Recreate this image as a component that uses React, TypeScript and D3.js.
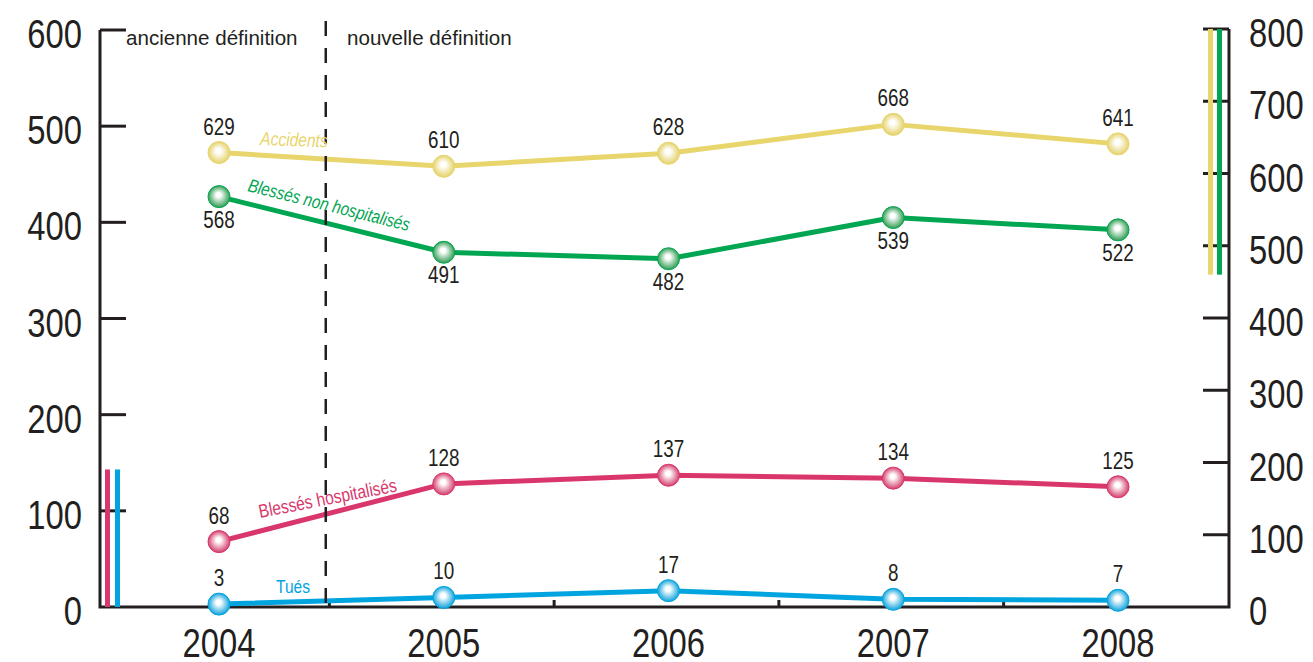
import React, { useEffect, useRef } from 'react';
import * as d3 from 'd3';

const years = ['2004', '2005', '2006', '2007', '2008'];
const accidents = [629, 610, 628, 668, 641];
const blessesNonHosp = [568, 491, 482, 539, 522];
const blessesHosp = [68, 128, 137, 134, 125];
const tues = [3, 10, 17, 8, 7];
const leftTicks = [0, 100, 200, 300, 400, 500, 600];
const rightTicks = [0, 100, 200, 300, 400, 500, 600, 700, 800];

const W = 1313;
const H = 662;
const FONT = "'Liberation Sans', Arial, sans-serif";
const INK = '#231f20';
const SX = 0.82; // horizontal squeeze to mimic a condensed face

interface Series {
  key: string;
  name: string;
  values: number[];
  axis: 'left' | 'right';
  color: string;
  edge: string;
  labelDy: number;
}

const series: Series[] = [
  { key: 'acc', name: 'Accidents', values: accidents, axis: 'right', color: '#e8d56c', edge: '#e3cf62', labelDy: -18 },
  { key: 'bnh', name: 'Blessés non hospitalisés', values: blessesNonHosp, axis: 'right', color: '#00a651', edge: '#26984a', labelDy: 31 },
  { key: 'bh', name: 'Blessés hospitalisés', values: blessesHosp, axis: 'left', color: '#d9376c', edge: '#d23766', labelDy: -18 },
  { key: 'tues', name: 'Tués', values: tues, axis: 'left', color: '#00a4df', edge: '#069fd9', labelDy: -18 },
];

export default function App() {
  const svgRef = useRef<SVGSVGElement>(null);

  useEffect(() => {
    if (!svgRef.current) return;
    const svg = d3.select(svgRef.current);
    svg.selectAll('*').remove();

    const x = d3.scalePoint<string>().domain(years).range([219, 1118]);
    const yL = d3.scaleLinear().domain([0, 600]).range([607, 30]);
    const yR = d3.scaleLinear().domain([0, 800]).range([607, 29]);
    const step = x.step();
    const x0 = 100;
    const x1 = 1229;

    // condensed text helper
    const label = (
      parent: d3.Selection<any, any, any, any>,
      tx: number, ty: number, txt: string | number,
      opts: { size: number; anchor?: string; fill?: string; rot?: number; italic?: boolean; sx?: number }
    ) => parent.append('text')
      .attr('transform', `translate(${tx},${ty}) rotate(${opts.rot || 0}) scale(${opts.sx ?? SX},1)`)
      .attr('text-anchor', opts.anchor || 'start')
      .attr('font-family', FONT)
      .attr('font-size', opts.size)
      .attr('font-style', opts.italic ? 'italic' : 'normal')
      .attr('fill', opts.fill || INK)
      .text(txt);

    // gradients for the dots
    const defs = svg.append('defs');
    series.forEach(s => {
      const g = defs.append('radialGradient')
        .attr('id', `grad-${s.key}`)
        .attr('cx', '50%').attr('cy', '50%').attr('r', '52%')
        .attr('fx', '47%').attr('fy', '40%');
      g.append('stop').attr('offset', '0%').attr('stop-color', '#ffffff');
      g.append('stop').attr('offset', '20%').attr('stop-color', '#ffffff');
      g.append('stop').attr('offset', '100%').attr('stop-color', s.edge);
    });

    // axes frame
    const axisG = svg.append('g').attr('stroke', INK).attr('stroke-width', 3).attr('fill', 'none');
    axisG.append('path')
      .attr('d', `M${x0},${yL(600)}V${yL(0)}H${x1}V${yR(800)}`);
    axisG.selectAll('.lt').data(leftTicks.filter(d => d > 0)).enter().append('line')
      .attr('x1', x0).attr('x2', x0 + 26)
      .attr('y1', d => yL(d)).attr('y2', d => yL(d));
    axisG.selectAll('.rt').data(rightTicks.filter(d => d > 0)).enter().append('line')
      .attr('x1', x1 - 26).attr('x2', x1)
      .attr('y1', d => yR(d)).attr('y2', d => yR(d));
    axisG.selectAll('.bt').data(years.slice(1)).enter().append('line')
      .attr('x1', d => (x(d) || 0) - step / 2 - 2).attr('x2', d => (x(d) || 0) - step / 2 - 2)
      .attr('y1', yL(0)).attr('y2', yL(0) - 7);

    // tick labels
    const tl = svg.append('g');
    leftTicks.forEach(d => label(tl, 82, yL(d) + 18, d, { size: 40, anchor: 'end' }));
    rightTicks.forEach(d => label(tl, 1249, yR(d) + 18, d, { size: 40 }));
    years.forEach(d => label(tl, x(d) || 0, 657, d, { size: 40, anchor: 'middle' }));

    // legend bars on the axes
    const barW = 5;
    svg.append('rect').attr('x', 1208).attr('y', yR(800)).attr('width', barW)
      .attr('height', yR(460) - yR(800)).attr('fill', series[0].color);
    svg.append('rect').attr('x', 1217).attr('y', yR(800)).attr('width', barW)
      .attr('height', yR(460) - yR(800)).attr('fill', series[1].color);
    svg.append('rect').attr('x', 105).attr('y', yL(143)).attr('width', barW)
      .attr('height', yL(0) - yL(143)).attr('fill', series[2].color);
    svg.append('rect').attr('x', 115).attr('y', yL(143)).attr('width', barW)
      .attr('height', yL(0) - yL(143)).attr('fill', series[3].color);

    // lines
    series.forEach(s => {
      const yS = s.axis === 'left' ? yL : yR;
      const line = d3.line<number>()
        .x((_, i) => x(years[i]) || 0)
        .y(d => yS(d));
      svg.append('path').datum(s.values)
        .attr('d', line)
        .attr('fill', 'none')
        .attr('stroke', s.color)
        .attr('stroke-width', 5)
        .attr('stroke-linejoin', 'round');
    });

    // definition separator
    const sepX = (x('2004') || 0) + step * 0.475;
    svg.append('line')
      .attr('x1', sepX).attr('x2', sepX)
      .attr('y1', 21).attr('y2', yL(0))
      .attr('stroke', INK).attr('stroke-width', 2.5)
      .attr('stroke-dasharray', '15,12');
    label(svg, 126, 45, 'ancienne définition', { size: 21, sx: 0.98 });
    label(svg, 347, 45, 'nouvelle définition', { size: 21, sx: 0.98 });

    // dots and value labels
    series.forEach(s => {
      const yS = s.axis === 'left' ? yL : yR;
      const g = svg.append('g');
      g.selectAll('circle').data(s.values).enter().append('circle')
        .attr('cx', (_, i) => x(years[i]) || 0)
        .attr('cy', d => yS(d))
        .attr('r', 11)
        .attr('fill', `url(#grad-${s.key})`)
        .attr('stroke', s.color)
        .attr('stroke-width', 1);
      s.values.forEach((d, i) =>
        label(g, x(years[i]) || 0, yS(d) + s.labelDy, d, { size: 23, anchor: 'middle' }));
    });

    // series names along the lines
    const names = [
      { s: series[0], x: 260, y: 145, rot: 2, size: 19, italic: true },
      { s: series[1], x: 247, y: 191, rot: 14, size: 18.5, italic: true },
      { s: series[2], x: 260, y: 518, rot: -11, size: 19, italic: false },
      { s: series[3], x: 276, y: 593, rot: 0, size: 19, italic: false },
    ];
    names.forEach(n => label(svg, n.x, n.y, n.s.name,
      { size: n.size, rot: n.rot, italic: n.italic, fill: n.s.color }));
  }, []);

  return (
    <div style={{ position: 'absolute', left: 0, top: 0, background: '#fff' }}>
      <svg ref={svgRef} width={W} height={H} style={{ display: 'block' }} />
    </div>
  );
}
